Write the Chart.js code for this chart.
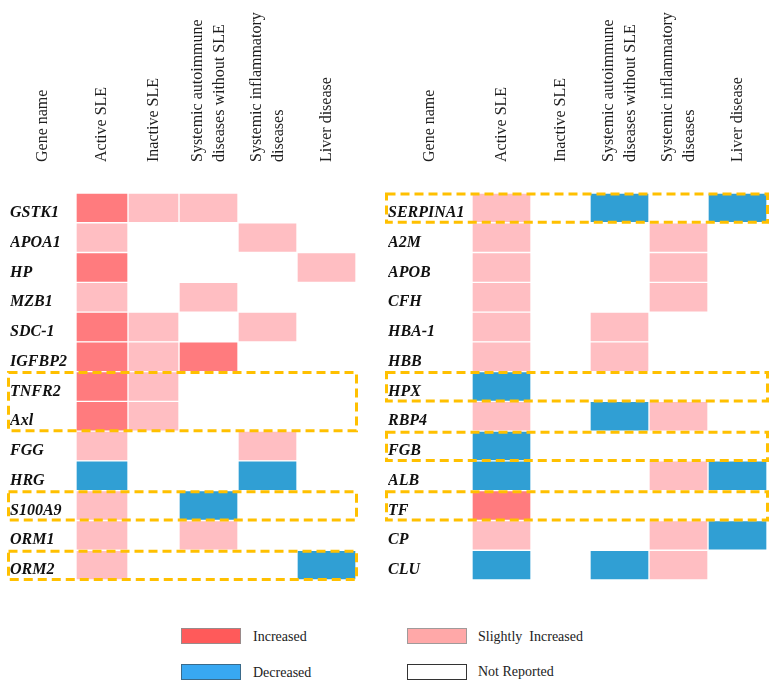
<!DOCTYPE html>
<html>
<head>
<meta charset="utf-8">
<script src="https://cdn.jsdelivr.net/npm/chart.js@4"></script>
<style>
  html, body { margin: 0; padding: 0; background: #fff; }
  #wrap { position: relative; width: 777px; height: 692px; overflow: hidden; font-family: "Liberation Serif", "Times New Roman", serif; }
  #cLeft { position: absolute; left: 0; top: 0; }
  #cRight { position: absolute; left: 378px; top: 0; }
  .lg { position: absolute; font-size: 14px; color: #222; line-height: 18px; white-space: pre; }
  .box { position: absolute; width: 60px; height: 16px; box-sizing: border-box; }
</style>
</head>
<body>
<div id="wrap">
  <canvas id="cLeft" width="378" height="592"></canvas>
  <canvas id="cRight" width="399" height="592"></canvas>
  <div class="box" style="left:181px;top:628px;background:#FF5A5A;border:1px solid #9a8a8a;"></div>
  <div class="lg" style="left:253px;top:628px;">Increased</div>
  <div class="box" style="left:181px;top:664px;background:#38A8F2;border:1px solid #3a6a8a;"></div>
  <div class="lg" style="left:253px;top:664px;">Decreased</div>
  <div class="box" style="left:407px;top:628px;background:#FFA8A8;border:1px solid #a09a9a;"></div>
  <div class="lg" style="left:478px;top:628px;">Slightly  Increased</div>
  <div class="box" style="left:407px;top:664px;background:#fff;border:1px solid #333;"></div>
  <div class="lg" style="left:478px;top:663px;">Not Reported</div>
</div>
<script>
// ---------- data ----------
const geneHeader = 'Gene name';
const conditions = [
  ['Active SLE'],
  ['Inactive SLE'],
  ['Systemic autoimmune', 'diseases without SLE'],
  ['Systemic inflammatory', 'diseases'],
  ['Liver disease']
];
// status codes: I = Increased, S = Slightly Increased, D = Decreased, '' = Not Reported
const leftGenes = ['GSTK1','APOA1','HP','MZB1','SDC-1','IGFBP2','TNFR2','Axl','FGG','HRG','S100A9','ORM1','ORM2'];
const leftActive       = ['I','S','I','S','I','I','I','I','S','D','S','S','S'];
const leftInactive     = ['S','','','','S','S','S','S','','','','',''];
const leftAutoimmune   = ['S','','','S','','I','','','','','D','S',''];
const leftInflammatory = ['','S','','','S','','','','S','D','','',''];
const leftLiver        = ['','','S','','','','','','','','','','D'];
const leftHighlights   = [['TNFR2','Axl'], ['S100A9'], ['ORM2']];

const rightGenes = ['SERPINA1','A2M','APOB','CFH','HBA-1','HBB','HPX','RBP4','FGB','ALB','TF','CP','CLU'];
const rightActive       = ['S','S','S','S','S','S','D','S','D','D','I','S','D'];
const rightInactive     = ['','','','','','','','','','','','',''];
const rightAutoimmune   = ['D','','','','S','S','','D','','','','','D'];
const rightInflammatory = ['','S','S','S','','','','S','','S','','S','S'];
const rightLiver        = ['D','','','','','','','','','D','','D',''];
const rightHighlights   = [['SERPINA1'], ['HPX'], ['FGB'], ['TF']];

// ---------- styles / layout ----------
const statusColor = { I: '#FF7B7E', S: '#FFBEC2', D: '#309FD4' };
const leftColWidths = [52, 51, 59, 59, 59];
const rightColWidths = [59, 59, 59, 59, 59];

function edgesFrom(widths) {
  const e = [0];
  widths.forEach(w => e.push(e[e.length - 1] + w));
  return e;
}

const overlay = {
  id: 'overlay',
  afterDatasetsDraw(chart, args, opts) {
    const ctx = chart.ctx;
    const xs = chart.scales.x, ys = chart.scales.y;
    const area = chart.chartArea;
    const edges = opts.edges;
    const n = chart.data.labels.length;
    const half = (area.bottom - area.top) / n / 2;
    // highlight boxes
    ctx.save();
    ctx.strokeStyle = '#FFC000';
    ctx.lineWidth = 3;
    ctx.setLineDash([9, 5]);
    opts.highlights.forEach(group => {
      const i0 = chart.data.labels.indexOf(group[0]);
      const i1 = chart.data.labels.indexOf(group[group.length - 1]);
      const top = ys.getPixelForValue(i0) - half;
      const bot = ys.getPixelForValue(i1) + half;
      const l = ys.left - 1.5;
      const r = area.right + 0.5;
      ctx.strokeRect(l, top + 1, r - l, bot - top - 1.5);
    });
    ctx.restore();
    // headers
    ctx.save();
    ctx.fillStyle = '#1e1e1e';
    ctx.font = '16px "Liberation Serif", "Times New Roman", serif';
    ctx.textAlign = 'left';
    ctx.textBaseline = 'middle';
    const baseY = area.top - 31;
    const lh = 22;
    const drawHeader = (lines, cx) => {
      ctx.save();
      ctx.translate(cx, baseY);
      ctx.rotate(-Math.PI / 2);
      lines.forEach((t, k) => {
        ctx.fillText(t, 0, (k - (lines.length - 1) / 2) * lh);
      });
      ctx.restore();
    };
    drawHeader([geneHeader], (ys.left + area.left) / 2);
    conditions.forEach((lines, c) => {
      const cx = xs.getPixelForValue((edges[c] + edges[c + 1]) / 2);
      drawHeader(lines, cx);
    });
    ctx.restore();
  }
};

function makeChart(canvasId, genes, columns, widths, highlights, pad, yWidth) {
  const edges = edgesFrom(widths);
  const datasets = columns.map((col, c) => ({
    label: conditions[c].join(' '),
    data: col.map(s => s ? [edges[c], edges[c + 1]] : null),
    backgroundColor: col.map(s => statusColor[s] || 'rgba(0,0,0,0)'),
    borderColor: '#ffffff',
    borderWidth: 1,
    borderSkipped: false,
    grouped: false,
    barPercentage: 1,
    categoryPercentage: 1
  }));
  return new Chart(document.getElementById(canvasId), {
    type: 'bar',
    data: { labels: genes, datasets },
    options: {
      indexAxis: 'y',
      responsive: false,
      animation: false,
      events: [],
      layout: { padding: pad },
      plugins: {
        legend: { display: false },
        tooltip: { enabled: false },
        overlay: { edges, highlights }
      },
      scales: {
        x: { type: 'linear', min: 0, max: edges[edges.length - 1], display: false },
        y: {
          type: 'category',
          offset: true,
          grid: { display: false },
          border: { display: false },
          afterFit: s => { s.width = yWidth; },
          ticks: {
            crossAlign: 'far',
            labelOffset: 5,
            padding: 0,
            color: '#111',
            font: { family: '"Liberation Serif", "Times New Roman", serif', size: 16, style: 'italic', weight: 'bold' }
          }
        }
      }
    },
    plugins: [overlay]
  });
}

makeChart('cLeft', leftGenes,
  [leftActive, leftInactive, leftAutoimmune, leftInflammatory, leftLiver],
  leftColWidths, leftHighlights,
  { left: 10, right: 22, top: 193, bottom: 12 }, 66);

makeChart('cRight', rightGenes,
  [rightActive, rightInactive, rightAutoimmune, rightInflammatory, rightLiver],
  rightColWidths, rightHighlights,
  { left: 10, right: 10, top: 193, bottom: 12 }, 84);
</script>
</body>
</html>
